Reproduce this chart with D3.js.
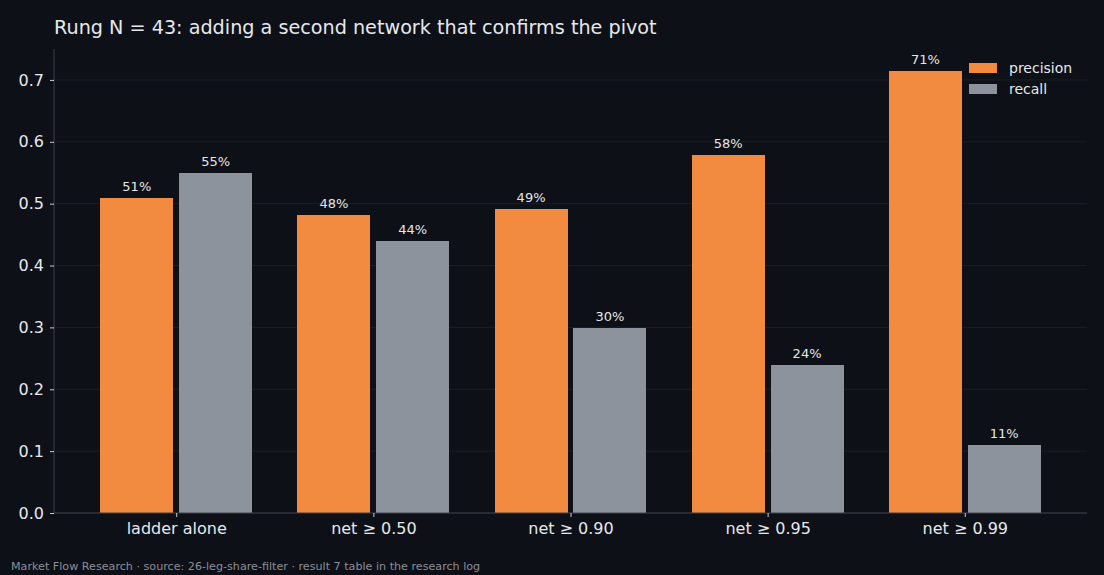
<!DOCTYPE html>
<html>
<head>
<meta charset="utf-8">
<script src="https://cdn.jsdelivr.net/npm/d3@7"></script>
<style>
  body { margin: 0; background: #0d1017; }
  text { font-family: "DejaVu Sans", sans-serif; }
</style>
</head>
<body>
<script>
// chart data
const categories = ["ladder alone", "net \u2265 0.50", "net \u2265 0.90", "net \u2265 0.95", "net \u2265 0.99"];
const precision = [0.509, 0.482, 0.491, 0.579, 0.714];
const recall = [0.550, 0.440, 0.299, 0.239, 0.110];
const yTicks = [0, 0.1, 0.2, 0.3, 0.4, 0.5, 0.6, 0.7];

const W = 1104, H = 575;
const margin = { top: 49, right: 17, bottom: 62, left: 54 };
const width = W - margin.left - margin.right;
const height = H - margin.top - margin.bottom;

const svg = d3.select("body").append("svg")
    .attr("width", W)
    .attr("height", H);

svg.append("rect").attr("width", W).attr("height", H).attr("fill", "#0d1017");

const g = svg.append("g")
    .attr("transform", `translate(${margin.left},${margin.top})`);

// scales
const x = d3.scaleLinear()
    .domain([-0.62, categories.length - 0.38])
    .range([0, width]);

const y = d3.scaleLinear()
    .domain([0, 0.75])
    .range([height, 0]);

const step = x(1) - x(0);
const barW = step * 0.37;
const off = step * 0.2;

// grid
g.append("g").selectAll("line")
    .data(yTicks)
    .join("line")
    .attr("x1", 0).attr("x2", width)
    .attr("y1", d => y(d)).attr("y2", d => y(d))
    .attr("stroke", "#1a1e26")
    .attr("stroke-width", 1);

// bars
const series = [
    { name: "precision", values: precision, color: "#f28a3f", dx: -off },
    { name: "recall", values: recall, color: "#8d939d", dx: off }
];

series.forEach(s => {
    g.append("g").selectAll("rect")
        .data(s.values)
        .join("rect")
        .attr("x", (d, i) => x(i) + s.dx - barW / 2)
        .attr("y", d => y(d))
        .attr("width", barW)
        .attr("height", d => height - y(d))
        .attr("fill", s.color)
        .attr("shape-rendering", "crispEdges");

    g.append("g").selectAll("text")
        .data(s.values)
        .join("text")
        .attr("x", (d, i) => x(i) + s.dx)
        .attr("y", d => y(d) - 7)
        .attr("text-anchor", "middle")
        .attr("fill", "#e6e6e6")
        .attr("font-size", 13)
        .text(d => Math.round(d * 100) + "%");
});

// axes
const yAxis = g.append("g")
    .call(d3.axisLeft(y).tickValues(yTicks).tickFormat(d3.format(".1f")).tickSize(4).tickPadding(6));
const xAxis = g.append("g")
    .attr("transform", `translate(0,${height})`)
    .call(d3.axisBottom(x).tickValues(d3.range(categories.length)).tickFormat(i => categories[i]).tickSize(4).tickPadding(6));

[xAxis, yAxis].forEach(a => {
    a.select(".domain").attr("stroke", "#3a3f48");
    a.selectAll(".tick line").attr("stroke", "#c8ccd2");
    a.selectAll(".tick text").attr("fill", "#e6e8eb").attr("font-size", 16)
        .style("font-family", "DejaVu Sans");
});
xAxis.select(".domain").attr("d", `M0,0H${width}`);
yAxis.select(".domain").attr("d", `M0,${height}V0`);

// legend
const legend = svg.append("g").attr("transform", "translate(969,62)");
series.forEach((s, i) => {
    legend.append("rect")
        .attr("x", 0).attr("y", i * 21 + 1)
        .attr("width", 28).attr("height", 10)
        .attr("fill", s.color);
    legend.append("text")
        .attr("x", 40).attr("y", i * 21 + 11)
        .attr("fill", "#e6e8eb")
        .attr("font-size", 14)
        .text(s.name);
});

// title and footer
svg.append("text")
    .attr("x", margin.left).attr("y", 34)
    .attr("fill", "#e6e8eb")
    .attr("font-size", 19.2)
    .text("Rung N = 43: adding a second network that confirms the pivot");

svg.append("text")
    .attr("x", 11).attr("y", 570)
    .attr("fill", "#8a8f98")
    .attr("font-size", 11.15)
    .text("Market Flow Research \u00b7 source: 26-leg-share-filter \u00b7 result 7 table in the research log");
</script>
</body>
</html>
